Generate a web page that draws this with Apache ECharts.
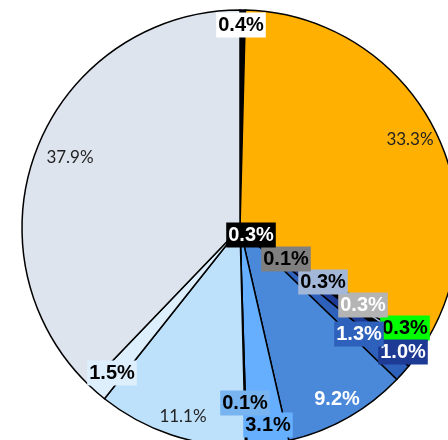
<!DOCTYPE html>
<html>
<head>
<meta charset="utf-8">
<style>
html, body { margin: 0; padding: 0; background: #fff; }
#main { width: 448px; height: 440px; }
</style>
<script src="https://cdn.jsdelivr.net/npm/echarts@6/dist/echarts.min.js"></script>
</head>
<body>
<div id="main"></div>
<script>
// slice values (percent), clockwise from 12 o'clock
var shares = [0.4, 33.3, 0.3, 0.3, 0.3, 0.1, 0.3, 1.0, 1.3, 9.2, 3.1, 0.1, 11.1, 1.5, 37.9];
var sliceColors = ['#000000', '#FFB000', '#00FF00', '#B4B4B4', '#A3B8D8', '#808080', '#000000',
    '#1D3A94', '#2E61BC', '#4A88DA', '#66AFFF', '#78B4F0', '#BDE0FB', '#DDEFFC', '#DEE4EE'];
// label look: background, text colour, bold condensed or plain
var labelBg = ['#ffffff', 'transparent', '#00FF00', '#B4B4B4', '#A3B8D8', '#808080', '#000000',
    '#1D3A94', '#2E61BC', 'transparent', '#66AFFF', '#78B4F0', 'transparent', '#DDEFFC', 'transparent'];
var labelFg = ['#000', '#222', '#000', '#fff', '#000', '#000', '#fff',
    '#fff', '#fff', '#fff', '#000', '#000', '#222', '#000', '#222'];
var labelBold = [1, 0, 1, 1, 1, 1, 1, 1, 1, 1, 1, 1, 0, 1, 0];
// where each label sits (px)
var labelPos = [[241, 25], [410, 140], [405, 328], [363, 305], [323, 282], [286, 259], [251, 235],
    [403, 352], [359, 334], [337, 399], [268, 425], [245, 403], [183, 417], [112, 373], [70, 158]];

var data = [];
for (let i = 0; i < shares.length; i++) {
    let bold = labelBold[i] == 1;
    data.push({
        value: shares[i],
        itemStyle: { color: sliceColors[i] },
        label: {
            color: labelFg[i],
            backgroundColor: labelBg[i],
            fontFamily: bold ? '"Liberation Sans Narrow", "Liberation Sans", sans-serif' : 'Lato, "Open Sans", sans-serif',
            fontWeight: bold ? 'bold' : 'normal',
            fontSize: bold ? 20 : 17,
            padding: bold ? [3, 2, 2, 2] : 0,
        },
    });
}

var chart = echarts.init(document.getElementById('main'), null, { renderer: 'canvas' });
chart.setOption({
    animation: false,
    series: [
        {
            type: 'pie',
            center: [240, 228],
            radius: 218,
            startAngle: 90,
            clockwise: true,
            avoidLabelOverlap: false,
            itemStyle: { borderColor: '#000', borderWidth: 1.5 },
            label: {
                show: true,
                position: 'inside',
                align: 'center',
                verticalAlign: 'middle',
                formatter: function (p) { return p.value.toFixed(1) + '%'; },
            },
            labelLine: { show: false },
            emphasis: { disabled: true },
            labelLayout: function (p) {
                let pos = labelPos[p.dataIndex];
                return { x: pos[0], y: pos[1], align: 'center', verticalAlign: 'middle' };
            },
            data: data,
        },
    ],
});
</script>
</body>
</html>
